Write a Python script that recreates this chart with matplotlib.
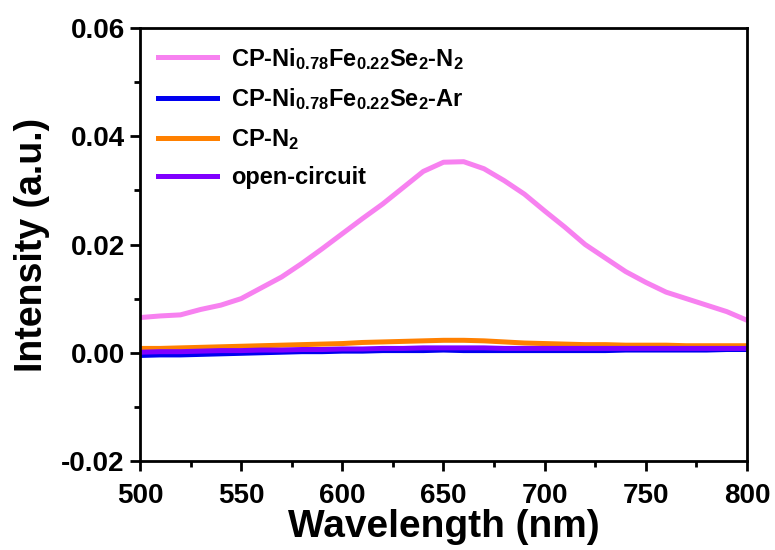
import numpy as np
import matplotlib.pyplot as plt
from matplotlib.ticker import MultipleLocator

plt.rcParams['font.family'] = ['Liberation Sans', 'DejaVu Sans']
plt.rcParams['font.weight'] = 'bold'
plt.rcParams['mathtext.fontset'] = 'custom'
plt.rcParams['mathtext.rm'] = 'Liberation Sans:bold'
plt.rcParams['mathtext.bf'] = 'Liberation Sans:bold'
plt.rcParams['mathtext.it'] = 'Liberation Sans:bold'
plt.rcParams['mathtext.default'] = 'bf'

# wavelength grid (nm), read every 10 nm
wavelength = np.arange(500, 801, 10)

# CP-Ni0.78Fe0.22Se2-N2
pink = [0.0065, 0.0068, 0.0070, 0.0080, 0.0088, 0.0100, 0.0120, 0.0140,
        0.0165, 0.0192, 0.0220, 0.0248, 0.0275, 0.0305, 0.0335, 0.0352,
        0.0353, 0.0340, 0.0318, 0.0293, 0.0262, 0.0232, 0.0200, 0.0175,
        0.0150, 0.0130, 0.0112, 0.0100, 0.0088, 0.0076, 0.0060]
# CP-Ni0.78Fe0.22Se2-Ar
blue = [-0.0005, -0.0004, -0.0004, -0.0003, -0.0002, -0.0001, 0.0000, 0.0001,
        0.0002, 0.0002, 0.0003, 0.0003, 0.0004, 0.0004, 0.0004, 0.0005,
        0.0004, 0.0004, 0.0004, 0.0004, 0.0004, 0.0004, 0.0004, 0.0004,
        0.0005, 0.0005, 0.0005, 0.0005, 0.0005, 0.0006, 0.0006]
# CP-N2
orange = [0.0008, 0.0008, 0.0009, 0.0010, 0.0011, 0.0012, 0.0013, 0.0014,
          0.0015, 0.0016, 0.0017, 0.0019, 0.0020, 0.0021, 0.0022, 0.0023,
          0.0023, 0.0022, 0.0020, 0.0018, 0.0017, 0.0016, 0.0015, 0.0015,
          0.0014, 0.0014, 0.0014, 0.0013, 0.0013, 0.0013, 0.0013]
# open-circuit
purple = [0.0001, 0.0002, 0.0002, 0.0003, 0.0004, 0.0004, 0.0005, 0.0005,
          0.0006, 0.0006, 0.0007, 0.0007, 0.0008, 0.0008, 0.0009, 0.0009,
          0.0009, 0.0009, 0.0008, 0.0008, 0.0008, 0.0008, 0.0008, 0.0008,
          0.0008, 0.0008, 0.0008, 0.0008, 0.0008, 0.0008, 0.0008]

labels = [r'CP-Ni$_{0.78}$Fe$_{0.22}$Se$_2$-N$_2$',
          r'CP-Ni$_{0.78}$Fe$_{0.22}$Se$_2$-Ar',
          r'CP-N$_2$',
          'open-circuit']
colors = ['#F781F0', '#0000F0', '#FF8000', '#8000FF']

fig = plt.figure(figsize=(7.75, 5.5), dpi=100)
ax = fig.add_axes([0.1806, 0.1618, 0.7833, 0.7873])

for y, lab, c in zip([pink, blue, orange, purple], labels, colors):
    ax.plot(wavelength, y, color=c, lw=3.6, label=lab)

ax.set_xlim(500, 800)
ax.set_ylim(-0.02, 0.06)
ax.xaxis.set_major_locator(MultipleLocator(50))
ax.xaxis.set_minor_locator(MultipleLocator(25))
ax.yaxis.set_major_locator(MultipleLocator(0.02))
ax.yaxis.set_minor_locator(MultipleLocator(0.01))
ax.yaxis.set_major_formatter(plt.FormatStrFormatter('%.2f'))

for s in ax.spines.values():
    s.set_linewidth(2)
ax.tick_params(which='major', direction='out', length=7, width=2,
               labelsize=20)
ax.tick_params(axis='x', which='major', pad=9)
ax.tick_params(axis='y', which='major', pad=4)
ax.tick_params(which='minor', direction='out', length=4.5, width=2)
ax.tick_params(top=False, right=False, which='both')

ax.set_xlabel('Wavelength (nm)', fontsize=28, fontweight='bold', labelpad=0)
ax.set_ylabel('Intensity (a.u.)', fontsize=27, fontweight='bold', labelpad=8)

leg = ax.legend(loc='upper left', frameon=False, fontsize=17,
                handlelength=2.5, handletextpad=0.6, labelspacing=0.62,
                borderaxespad=0.35, bbox_to_anchor=(0.0, 1.0))

fig.savefig('out.png', dpi=100)
